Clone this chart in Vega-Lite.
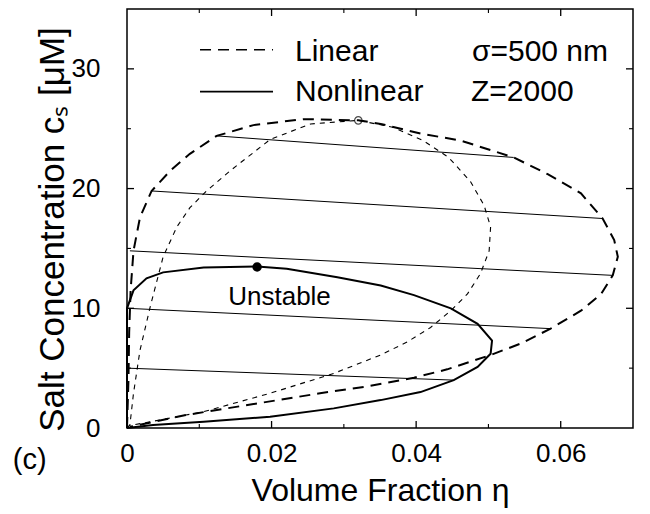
{
  "$schema": "https://vega.github.io/schema/vega-lite/v6.json",
  "width": 506,
  "height": 419,
  "autosize": {"type": "none"},
  "padding": {"left": 127, "top": 9, "right": 17, "bottom": 86},
  "background": "white",
  "config": {
    "view": {"stroke": "black", "strokeWidth": 1.5},
    "font": "Liberation Sans",
    "axis": {"grid": false, "domain": false, "ticks": false, "labelColor": "black", "titleColor": "black", "labelFont": "Liberation Sans", "titleFont": "Liberation Sans", "titleFontWeight": "normal", "labelFlush": false, "labelOverlap": false}
  },
  "datasets": {
    "linbin": [
      {"o": 0, "x": 0, "y": 0}, {"o": 1, "x": 0.0002, "y": 4}, {"o": 2, "x": 0.0003, "y": 8},
      {"o": 3, "x": 0.0005, "y": 11.5}, {"o": 4, "x": 0.0009, "y": 14.8}, {"o": 5, "x": 0.0018, "y": 17.6},
      {"o": 6, "x": 0.0034, "y": 19.8}, {"o": 7, "x": 0.006, "y": 21.5}, {"o": 8, "x": 0.0087, "y": 22.9},
      {"o": 9, "x": 0.0124, "y": 24.4}, {"o": 10, "x": 0.0175, "y": 25.3}, {"o": 11, "x": 0.0244, "y": 25.8},
      {"o": 12, "x": 0.032, "y": 25.7}, {"o": 13, "x": 0.0351, "y": 25.4}, {"o": 14, "x": 0.0406, "y": 24.6},
      {"o": 15, "x": 0.0462, "y": 24.0}, {"o": 16, "x": 0.0535, "y": 22.6}, {"o": 17, "x": 0.0582, "y": 21.2},
      {"o": 18, "x": 0.0628, "y": 19.6}, {"o": 19, "x": 0.0658, "y": 17.5}, {"o": 20, "x": 0.0674, "y": 15.7},
      {"o": 21, "x": 0.0679, "y": 14.3}, {"o": 22, "x": 0.0672, "y": 12.75}, {"o": 23, "x": 0.0656, "y": 11.2},
      {"o": 24, "x": 0.0628, "y": 9.8}, {"o": 25, "x": 0.0586, "y": 8.3}, {"o": 26, "x": 0.0545, "y": 7.06},
      {"o": 27, "x": 0.0503, "y": 6.1}, {"o": 28, "x": 0.0443, "y": 4.9}, {"o": 29, "x": 0.0397, "y": 4.2},
      {"o": 30, "x": 0.0335, "y": 3.5}, {"o": 31, "x": 0.0267, "y": 2.9}, {"o": 32, "x": 0.0175, "y": 2.0},
      {"o": 33, "x": 0.0083, "y": 1.1}, {"o": 34, "x": 0.0004, "y": 0.1}
    ],
    "linspin": [
      {"o": 0, "x": 0, "y": 0}, {"o": 1, "x": 0.0004, "y": 0.25}, {"o": 2, "x": 0.0009, "y": 2.9},
      {"o": 3, "x": 0.0018, "y": 6.5}, {"o": 4, "x": 0.0032, "y": 10.1}, {"o": 5, "x": 0.005, "y": 14.3},
      {"o": 6, "x": 0.0069, "y": 16.8}, {"o": 7, "x": 0.0087, "y": 18.4}, {"o": 8, "x": 0.011, "y": 19.8},
      {"o": 9, "x": 0.0143, "y": 21.5}, {"o": 10, "x": 0.0198, "y": 24.1}, {"o": 11, "x": 0.0254, "y": 25.4},
      {"o": 12, "x": 0.032, "y": 25.7}, {"o": 13, "x": 0.0369, "y": 25.1}, {"o": 14, "x": 0.041, "y": 24.0},
      {"o": 15, "x": 0.0445, "y": 22.6}, {"o": 16, "x": 0.0475, "y": 20.6}, {"o": 17, "x": 0.0494, "y": 18.6},
      {"o": 18, "x": 0.0503, "y": 16.8}, {"o": 19, "x": 0.0501, "y": 14.8}, {"o": 20, "x": 0.0489, "y": 12.9},
      {"o": 21, "x": 0.0471, "y": 11.2}, {"o": 22, "x": 0.0448, "y": 9.8}, {"o": 23, "x": 0.042, "y": 8.4},
      {"o": 24, "x": 0.0388, "y": 7.2}, {"o": 25, "x": 0.0351, "y": 6.1}, {"o": 26, "x": 0.0286, "y": 4.56},
      {"o": 27, "x": 0.0198, "y": 2.9}, {"o": 28, "x": 0.0106, "y": 1.36}, {"o": 29, "x": 0.0004, "y": 0.2}
    ],
    "nlbin": [
      {"o": 0, "x": 0, "y": 0}, {"o": 1, "x": 0, "y": 10}, {"o": 2, "x": 0.0009, "y": 11.5},
      {"o": 3, "x": 0.0027, "y": 12.5}, {"o": 4, "x": 0.005, "y": 13.0}, {"o": 5, "x": 0.0106, "y": 13.4},
      {"o": 6, "x": 0.018, "y": 13.5}, {"o": 7, "x": 0.0221, "y": 13.3}, {"o": 8, "x": 0.0291, "y": 12.6},
      {"o": 9, "x": 0.0351, "y": 11.9}, {"o": 10, "x": 0.0397, "y": 11.1}, {"o": 11, "x": 0.0448, "y": 10.0},
      {"o": 12, "x": 0.0485, "y": 8.7}, {"o": 13, "x": 0.0505, "y": 7.3}, {"o": 14, "x": 0.0503, "y": 6.2},
      {"o": 15, "x": 0.0485, "y": 5.1}, {"o": 16, "x": 0.0452, "y": 4.0}, {"o": 17, "x": 0.0406, "y": 3.0},
      {"o": 18, "x": 0.0351, "y": 2.33}, {"o": 19, "x": 0.0286, "y": 1.64}, {"o": 20, "x": 0.0198, "y": 0.94},
      {"o": 21, "x": 0.0106, "y": 0.53}, {"o": 22, "x": 0.0036, "y": 0.25}, {"o": 23, "x": 0, "y": 0}
    ],
    "ties": [
      {"id": 1, "x": 0, "y": 5.0}, {"id": 1, "x": 0.0452, "y": 4.0},
      {"id": 2, "x": 0, "y": 10.0}, {"id": 2, "x": 0.0586, "y": 8.3},
      {"id": 3, "x": 0.0004, "y": 14.8}, {"id": 3, "x": 0.0672, "y": 12.75},
      {"id": 4, "x": 0.0034, "y": 19.8}, {"id": 4, "x": 0.0658, "y": 17.5},
      {"id": 5, "x": 0.0124, "y": 24.4}, {"id": 5, "x": 0.0535, "y": 22.6}
    ],
    "legend": [
      {"s": "Linear", "x": 0.0101, "y": 31.6}, {"s": "Linear", "x": 0.0202, "y": 31.6},
      {"s": "Nonlinear", "x": 0.0101, "y": 28.1}, {"s": "Nonlinear", "x": 0.0202, "y": 28.1}
    ],
    "labels": [
      {"x": 0.02324, "y": 31.4, "t": "Linear"},
      {"x": 0.02324, "y": 28.07, "t": "Nonlinear"},
      {"x": 0.04772, "y": 31.4, "t": "σ=500 nm"},
      {"x": 0.04759, "y": 28.07, "t": "Z=2000"}
    ],
    "xmajor": [{"v": 0.02}, {"v": 0.04}, {"v": 0.06}],
    "xminor": [{"v": 0.01}, {"v": 0.03}, {"v": 0.05}],
    "ymajor": [{"v": 10}, {"v": 20}, {"v": 30}],
    "yminor": [{"v": 5}, {"v": 15}, {"v": 25}]
  },
  "layer": [
    {
      "data": {"name": "linbin"},
      "mark": {"type": "line", "color": "black", "strokeWidth": 2, "strokeDash": [11, 7]},
      "encoding": {
        "x": {"field": "x", "type": "quantitative", "scale": {"domain": [0, 0.07], "nice": false},
          "axis": {"orient": "bottom", "values": [0, 0.02, 0.04, 0.06], "format": ".2~f",
            "labelPadding": 12, "labelFontSize": 26, "labelBaseline": "top",
            "title": "Volume Fraction  η", "titleFontSize": 32, "titleY": 72, "titleBaseline": "alphabetic"}},
        "y": {"field": "y", "type": "quantitative", "scale": {"domain": [0, 35], "nice": false},
          "axis": {"orient": "left", "values": [0, 10, 20, 30], "format": "d",
            "labelPadding": 27, "labelFontSize": 26,
            "title": "Salt Concentration  cₛ [μM]", "titleFontSize": 35, "titleX": -64, "titleY": 220, "titleAngle": 270, "titleBaseline": "alphabetic", "titleAlign": "center"}},
        "order": {"field": "o", "type": "quantitative"}
      }
    },
    {
      "data": {"name": "linspin"},
      "mark": {"type": "line", "color": "black", "strokeWidth": 1.1, "strokeDash": [5, 5]},
      "encoding": {
        "x": {"field": "x", "type": "quantitative", "axis": null},
        "y": {"field": "y", "type": "quantitative", "axis": null},
        "order": {"field": "o", "type": "quantitative"}
      }
    },
    {
      "data": {"name": "nlbin"},
      "mark": {"type": "line", "color": "black", "strokeWidth": 2},
      "encoding": {
        "x": {"field": "x", "type": "quantitative", "axis": null},
        "y": {"field": "y", "type": "quantitative", "axis": null},
        "order": {"field": "o", "type": "quantitative"}
      }
    },
    {
      "data": {"name": "ties"},
      "mark": {"type": "line", "color": "black", "strokeWidth": 1},
      "encoding": {
        "x": {"field": "x", "type": "quantitative", "axis": null},
        "y": {"field": "y", "type": "quantitative", "axis": null},
        "detail": {"field": "id", "type": "nominal"}
      }
    },
    {
      "data": {"name": "xmajor"},
      "mark": {"type": "rule", "color": "black", "strokeWidth": 1.3},
      "encoding": {"x": {"field": "v", "type": "quantitative", "axis": null}, "y": {"datum": 0, "axis": null}, "y2": {"datum": 0.585}}
    },
    {
      "data": {"name": "xmajor"},
      "mark": {"type": "rule", "color": "black", "strokeWidth": 1.3},
      "encoding": {"x": {"field": "v", "type": "quantitative", "axis": null}, "y": {"datum": 35, "axis": null}, "y2": {"datum": 34.415}}
    },
    {
      "data": {"name": "xminor"},
      "mark": {"type": "rule", "color": "black", "strokeWidth": 1.1},
      "encoding": {"x": {"field": "v", "type": "quantitative", "axis": null}, "y": {"datum": 0, "axis": null}, "y2": {"datum": 0.334}}
    },
    {
      "data": {"name": "xminor"},
      "mark": {"type": "rule", "color": "black", "strokeWidth": 1.1},
      "encoding": {"x": {"field": "v", "type": "quantitative", "axis": null}, "y": {"datum": 35, "axis": null}, "y2": {"datum": 34.666}}
    },
    {
      "data": {"name": "ymajor"},
      "mark": {"type": "rule", "color": "black", "strokeWidth": 1.3},
      "encoding": {"y": {"field": "v", "type": "quantitative", "axis": null}, "x": {"datum": 0, "axis": null}, "x2": {"datum": 0.00097}}
    },
    {
      "data": {"name": "ymajor"},
      "mark": {"type": "rule", "color": "black", "strokeWidth": 1.3},
      "encoding": {"y": {"field": "v", "type": "quantitative", "axis": null}, "x": {"datum": 0.07, "axis": null}, "x2": {"datum": 0.06903}}
    },
    {
      "data": {"name": "yminor"},
      "mark": {"type": "rule", "color": "black", "strokeWidth": 1.1},
      "encoding": {"y": {"field": "v", "type": "quantitative", "axis": null}, "x": {"datum": 0, "axis": null}, "x2": {"datum": 0.00055}}
    },
    {
      "data": {"name": "yminor"},
      "mark": {"type": "rule", "color": "black", "strokeWidth": 1.1},
      "encoding": {"y": {"field": "v", "type": "quantitative", "axis": null}, "x": {"datum": 0.07, "axis": null}, "x2": {"datum": 0.06945}}
    },
    {
      "data": {"name": "legend"},
      "mark": {"type": "line", "color": "black", "strokeWidth": 1.6},
      "encoding": {
        "x": {"field": "x", "type": "quantitative", "axis": null},
        "y": {"field": "y", "type": "quantitative", "axis": null},
        "detail": {"field": "s", "type": "nominal"},
        "strokeDash": {"field": "s", "type": "nominal", "scale": {"domain": ["Linear", "Nonlinear"], "range": [[11, 7], [1, 0]]}, "legend": null}
      }
    },
    {
      "data": {"values": [{"x": 0.032, "y": 25.7}]},
      "mark": {"type": "point", "shape": "circle", "filled": false, "color": "black", "strokeWidth": 1.2, "size": 55},
      "encoding": {
        "x": {"field": "x", "type": "quantitative", "axis": null},
        "y": {"field": "y", "type": "quantitative", "axis": null}
      }
    },
    {
      "data": {"values": [{"x": 0.018, "y": 13.45}]},
      "mark": {"type": "point", "shape": "circle", "filled": true, "color": "black", "opacity": 1, "size": 90},
      "encoding": {
        "x": {"field": "x", "type": "quantitative", "axis": null},
        "y": {"field": "y", "type": "quantitative", "axis": null}
      }
    },
    {
      "data": {"name": "labels"},
      "mark": {"type": "text", "align": "left", "baseline": "middle", "fontSize": 30, "font": "Liberation Sans", "color": "black"},
      "encoding": {
        "x": {"field": "x", "type": "quantitative", "axis": null},
        "y": {"field": "y", "type": "quantitative", "axis": null},
        "text": {"field": "t"}
      }
    },
    {
      "data": {"values": [{"x": 0.0211, "y": 10.97, "t": "Unstable"}]},
      "mark": {"type": "text", "align": "center", "baseline": "middle", "fontSize": 26, "font": "Liberation Sans", "color": "black"},
      "encoding": {
        "x": {"field": "x", "type": "quantitative", "axis": null},
        "y": {"field": "y", "type": "quantitative", "axis": null},
        "text": {"field": "t"}
      }
    },
    {
      "data": {"values": [{"x": -0.0158, "y": -2.67, "t": "(c)"}]},
      "mark": {"type": "text", "align": "left", "baseline": "middle", "fontSize": 29, "font": "Liberation Sans", "color": "black", "clip": false},
      "encoding": {
        "x": {"field": "x", "type": "quantitative", "axis": null},
        "y": {"field": "y", "type": "quantitative", "axis": null},
        "text": {"field": "t"}
      }
    }
  ],
  "resolve": {"axis": {"x": "independent", "y": "independent"}}
}
